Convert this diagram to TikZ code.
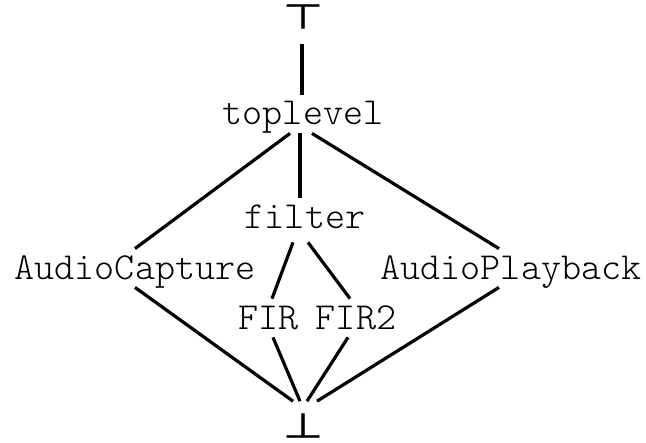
\documentclass[tikz,border=0pt]{standalone}
\usepackage{fontspec}
\setmonofont{Latin Modern Mono Light}
\newfontfamily\tackfont[FakeBold=1]{DejaVu Sans}
\begin{document}
\begin{tikzpicture}[x=0.5pt, y=-0.5pt,
        elem/.style={anchor=base, inner sep=0pt, text height=15pt, text depth=4pt,
            font=\fontsize{19.1}{22}\ttfamily},
        tack/.style={inner sep=0pt, font=\fontsize{17}{20}\tackfont},
        link/.style={line width=1.6pt}]
    \useasboundingbox (0,0) rectangle (646,443);
    \node[tack] (top) at (303,16.5) {\scalebox{1.35}[1]{⊤}};
    \node[elem] (toplevel) at (303,125) {toplevel};
    \node[elem] (filter) at (305,228) {filter};
    \node[elem] (capture) at (135,279) {AudioCapture};
    \node[elem] (playback) at (511,279) {AudioPlayback};
    \node[elem] (fir) at (268.5,329) {FIR};
    \node[elem] (firtwo) at (356,329) {FIR2};
    \node[tack] (bot) at (303,425.5) {\scalebox{1.35}[1]{⊥}};
    \coordinate (stem) at ([yshift=-7.5pt]top.south);
    \coordinate (join) at ([yshift=6pt]bot.north);
    \draw[link] ([xshift=-0.5pt]stem) -- ([xshift=-0.5pt]stem |- toplevel.north);
    \draw[link] ([xshift=-1.5pt]toplevel.south) -- ([xshift=-2.5pt]filter.north);
    \draw[link] ([xshift=-6.5pt]toplevel.south) -- (capture.north);
    \draw[link] ([xshift=4.5pt]toplevel.south) -- ([xshift=-6pt]playback.north);
    \draw[link] ([xshift=-6pt, yshift=-3pt]filter.south) -- ([xshift=1.75pt]fir.north);
    \draw[link] ([xshift=1.5pt, yshift=-3pt]filter.south) -- ([xshift=-3pt]firtwo.north);
    \draw[link] (capture.south) -- ([xshift=-5pt]join);
    \draw[link] ([xshift=2.25pt]fir.south) -- ([xshift=-1.5pt]join);
    \draw[link] ([xshift=-4pt]firtwo.south) -- ([xshift=2pt]join);
    \draw[link] ([xshift=-6pt]playback.south) -- ([xshift=7pt]join);
\end{tikzpicture}
\end{document}
